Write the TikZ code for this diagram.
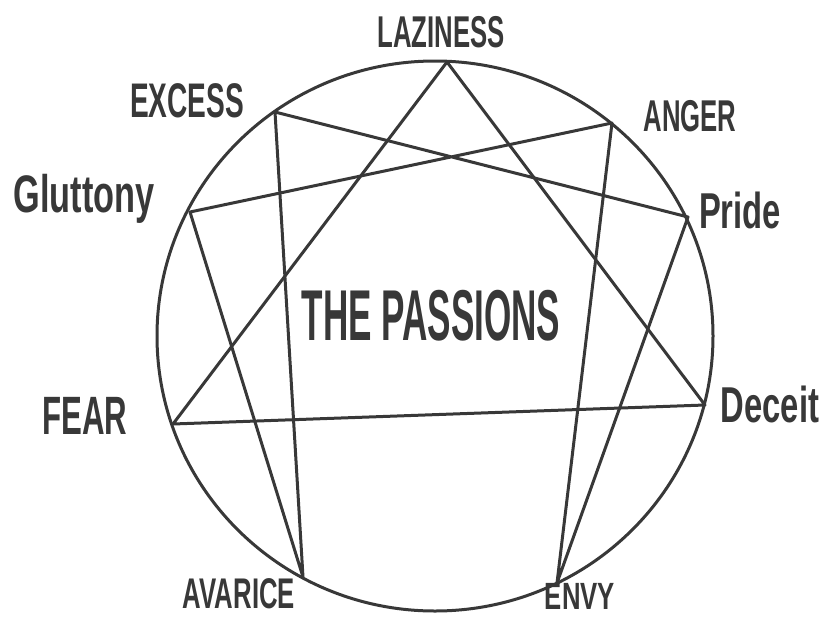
\documentclass[tikz,border=0pt]{standalone}
\usepackage{fontspec}
\setmainfont{Liberation Sans}
\usetikzlibrary{positioning}
\definecolor{pencil}{HTML}{383838}
\newcommand{\hand}[2][1.35]{\scalebox{0.78}[#1]{#2}}

\begin{document}
\begin{tikzpicture}[x=1pt, y=-1pt,
  stroke/.style={pencil, line width=3pt, line join=round, line cap=round},
  passion/.style={pencil, font=\bfseries\fontsize{33}{36}\selectfont, inner sep=0pt},
  title/.style={pencil, font=\bfseries\fontsize{45}{48}\selectfont, inner sep=0pt}]
\useasboundingbox (0,0) rectangle (825,619);
\draw[stroke] (435,336) ellipse [x radius=278, y radius=275];
% the nine points
\coordinate (laz) at (447,62);
\coordinate (ang) at (612,123);
\coordinate (pri) at (688,217);
\coordinate (dec) at (705,405);
\coordinate (envy) at (557,583);
\coordinate (ava) at (303,577);
\coordinate (fear) at (173,424);
\coordinate (glu) at (190,212);
\coordinate (exc) at (275,112);
\draw[stroke] (laz) -- (dec) -- (fear) -- cycle;
\draw[stroke] (ang) -- (envy) -- (pri) -- (exc) -- (ava) -- (glu) -- cycle;
% labels
\node[passion] (lazl) at (441,32) {\hand{LAZINESS}};
\node[passion] (angl) at (690,116) {\hand{ANGER}};
\node[passion, font=\bfseries\fontsize{42}{44}\selectfont] (pril) at (740,210) {\hand[1.2]{Pride}};
\node[passion, font=\bfseries\fontsize{42}{44}\selectfont] (decl) at (770,404) {\hand[1.2]{Deceit}};
\node[passion] (envyl) at (580,596) {\hand[1.15]{ENVY}};
\node[passion] (aval) at (239,594) {\hand[1.3]{AVARICE}};
\node[passion, font=\bfseries\fontsize{40}{42}\selectfont] (fearl) at (85,416) {\hand{FEAR}};
\node[passion, font=\bfseries\fontsize{44}{46}\selectfont] (glul) at (84,199) {\hand[1.2]{Gluttony}};
\node[passion, font=\bfseries\fontsize{36}{38}\selectfont] (excl) at (187,101) {\hand{EXCESS}};
\node[title] (passions) at (431,316) {\hand[1.6]{THE PASSIONS}};
\end{tikzpicture}
\end{document}
